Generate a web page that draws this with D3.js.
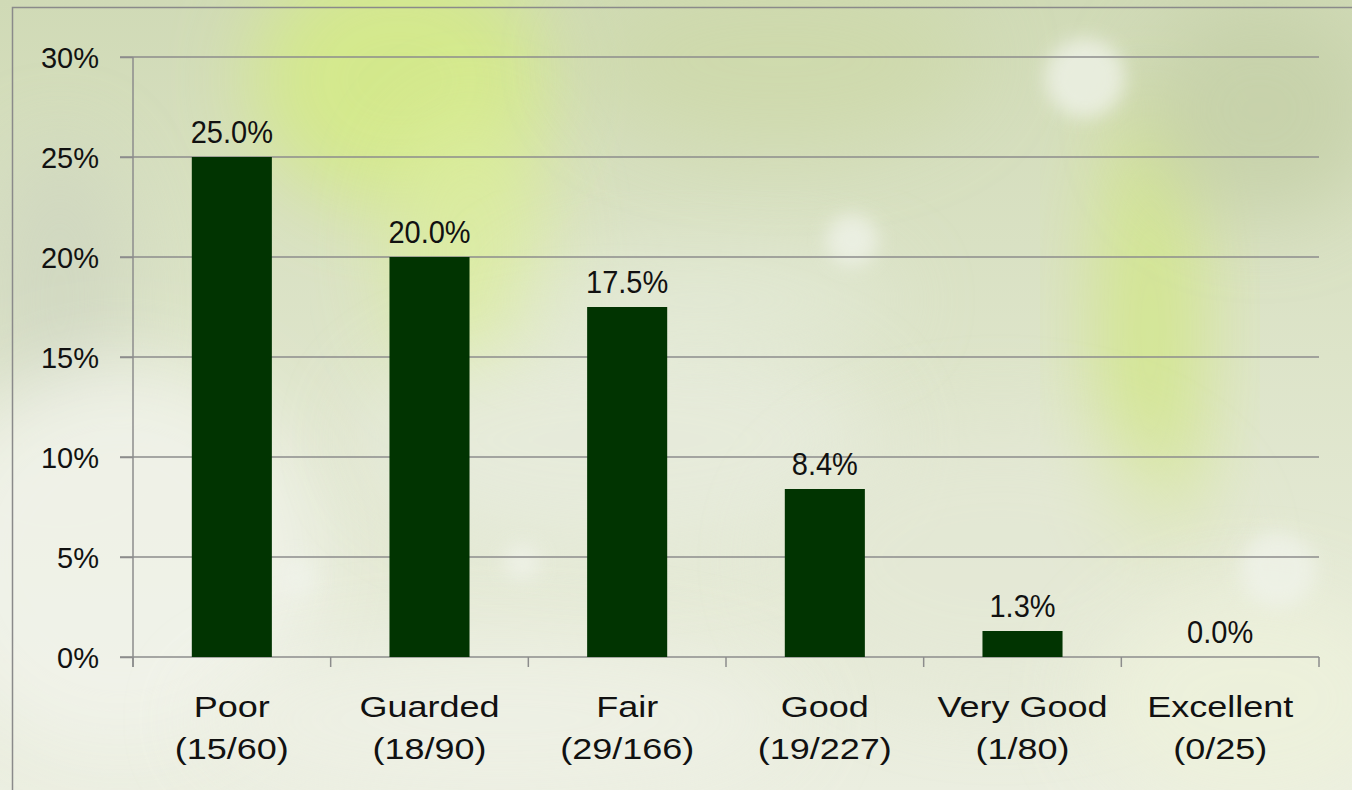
<!DOCTYPE html>
<html>
<head>
<meta charset="utf-8">
<script src="https://cdn.jsdelivr.net/npm/d3@7"></script>
<style>
  html, body { margin: 0; padding: 0; overflow: hidden; }
  svg { display: block; font-family: "Liberation Sans", Arial, sans-serif; }
</style>
</head>
<body>
<svg id="chart"></svg>
<script>
// data
const categories = ["Poor", "Guarded", "Fair", "Good", "Very Good", "Excellent"];
const counts = ["(15/60)", "(18/90)", "(29/166)", "(19/227)", "(1/80)", "(0/25)"];
const values = [0.25, 0.20, 0.175, 0.084, 0.013, 0.0];
const yTicks = [0, 0.05, 0.10, 0.15, 0.20, 0.25, 0.30];

const width = 1352;
const height = 790;
const margin = { top: 57, right: 33, bottom: 133, left: 133 };

const svg = d3.select("#chart").attr("width", width).attr("height", height);
const defs = svg.append("defs");

// background: soft blurred greens
const base = defs.append("linearGradient").attr("id", "bg-base")
  .attr("x1", 0).attr("y1", 0).attr("x2", 0).attr("y2", 1);
base.append("stop").attr("offset", "0%").attr("stop-color", "#d0dab6");
base.append("stop").attr("offset", "45%").attr("stop-color", "#dde4c9");
base.append("stop").attr("offset", "100%").attr("stop-color", "#ebeee0");

defs.append("filter").attr("id", "blur-big")
  .attr("x", "-50%").attr("y", "-50%").attr("width", "200%").attr("height", "200%")
  .append("feGaussianBlur").attr("stdDeviation", 40);
defs.append("filter").attr("id", "blur-small")
  .attr("x", "-50%").attr("y", "-50%").attr("width", "200%").attr("height", "200%")
  .append("feGaussianBlur").attr("stdDeviation", 9);

const bg = svg.append("g").attr("class", "background");
bg.append("rect").attr("width", width).attr("height", height).attr("fill", "url(#bg-base)");

const blobs = [
  { cx: 400, cy: 80, rx: 150, ry: 130, c: "#d4ea88", o: 0.9 },
  { cx: 470, cy: 250, rx: 80, ry: 140, c: "#dcee9c", o: 0.8 },
  { cx: 1150, cy: 330, rx: 55, ry: 230, c: "#d2e68a", o: 0.9 },
  { cx: 1260, cy: 110, rx: 120, ry: 110, c: "#c2cea4", o: 0.7 },
  { cx: 780, cy: 60, rx: 200, ry: 90, c: "#cdd9a8", o: 0.7 },
  { cx: 60, cy: 300, rx: 70, ry: 160, c: "#cdd4c0", o: 0.7 },
  { cx: 120, cy: 560, rx: 200, ry: 200, c: "#f1f3ea", o: 0.9 },
  { cx: 620, cy: 440, rx: 260, ry: 110, c: "#e9ede0", o: 0.7 },
  { cx: 700, cy: 300, rx: 200, ry: 55, c: "#e6ecdc", o: 0.6 },
  { cx: 1000, cy: 560, rx: 220, ry: 140, c: "#e4e8d6", o: 0.6 },
  { cx: 1250, cy: 700, rx: 160, ry: 110, c: "#eef2dc", o: 0.8 },
  { cx: 500, cy: 720, rx: 300, ry: 80, c: "#eff1e6", o: 0.8 },
];
bg.selectAll("ellipse.blob").data(blobs).join("ellipse")
  .attr("class", "blob")
  .attr("cx", d => d.cx).attr("cy", d => d.cy)
  .attr("rx", d => d.rx).attr("ry", d => d.ry)
  .attr("fill", d => d.c).attr("opacity", d => d.o)
  .attr("filter", "url(#blur-big)");

const bokeh = [
  { cx: 1085, cy: 78, r: 40 },
  { cx: 852, cy: 240, r: 26 },
  { cx: 1278, cy: 570, r: 38 },
  { cx: 296, cy: 578, r: 20 },
  { cx: 522, cy: 562, r: 18 },
];
bg.selectAll("circle.bokeh").data(bokeh).join("circle")
  .attr("class", "bokeh")
  .attr("cx", d => d.cx).attr("cy", d => d.cy).attr("r", d => d.r)
  .attr("fill", "#f0f3ea").attr("opacity", 0.75)
  .attr("filter", "url(#blur-small)");

// frame
svg.append("rect")
  .attr("x", 12.5).attr("y", 7.5)
  .attr("width", width).attr("height", height)
  .attr("fill", "none").attr("stroke", "#8a8a8a").attr("stroke-width", 1.5);

// scales
const x = d3.scaleBand()
  .domain(categories)
  .range([margin.left, width - margin.right])
  .paddingInner(0.595)
  .paddingOuter(0.2975);

const y = d3.scaleLinear()
  .domain([0, 0.30])
  .range([height - margin.bottom, margin.top]);

const axisColor = "#8c8c8c";

// gridlines
svg.append("g").attr("class", "grid")
  .selectAll("line").data(yTicks).join("line")
  .attr("x1", margin.left - 13).attr("x2", width - margin.right)
  .attr("y1", d => y(d)).attr("y2", d => y(d))
  .attr("stroke", axisColor).attr("stroke-width", 1.5);

// y axis
const yAxisG = svg.append("g").attr("class", "axis yAxis")
  .attr("transform", `translate(${margin.left}, 0)`)
  .call(d3.axisLeft(y).tickValues(yTicks).tickFormat(d3.format(".0%")).tickSize(13).tickPadding(21));
yAxisG.select(".domain").remove();
yAxisG.selectAll(".tick line").attr("stroke", axisColor).attr("stroke-width", 1.5);
yAxisG.selectAll(".tick text")
  .attr("font-size", 29).attr("fill", "#111").attr("dy", "0.36em")
  .attr("font-family", "'Liberation Sans', Arial, sans-serif");
svg.append("line")
  .attr("x1", margin.left).attr("x2", margin.left)
  .attr("y1", y(0.30)).attr("y2", y(0) + 10)
  .attr("stroke", axisColor).attr("stroke-width", 1.5);

// x axis ticks at band boundaries
const boundaries = d3.range(categories.length + 1).map(i => x.range()[0] + i * x.step());
svg.append("g").attr("class", "xticks")
  .selectAll("line").data(boundaries).join("line")
  .attr("x1", d => d).attr("x2", d => d)
  .attr("y1", y(0)).attr("y2", y(0) + 10)
  .attr("stroke", axisColor).attr("stroke-width", 1.5);

// bars
svg.append("g").attr("class", "bars")
  .selectAll("rect").data(values).join("rect")
  .attr("x", (d, i) => x(categories[i]))
  .attr("width", x.bandwidth())
  .attr("y", d => y(d))
  .attr("height", d => y(0) - y(d))
  .attr("fill", "#013401");

// data labels
svg.append("g").attr("class", "labels")
  .selectAll("g").data(values).join("g")
  .attr("transform", (d, i) => `translate(${x(categories[i]) + x.bandwidth() / 2}, ${y(d) - 14}) scale(1, 1.08)`)
  .append("text")
  .attr("text-anchor", "middle")
  .attr("font-size", 29)
  .attr("fill", "#111")
  .text(d => d3.format(".1%")(d));

// category labels, two lines
const catG = svg.append("g").attr("class", "categories")
  .selectAll("g").data(categories).join("g")
  .attr("transform", d => `translate(${x(d) + x.bandwidth() / 2}, 0) scale(1.2, 1)`);
catG.append("text")
  .attr("y", 717)
  .attr("text-anchor", "middle")
  .attr("font-size", 30)
  .attr("fill", "#111")
  .text(d => d);
catG.append("text")
  .attr("y", 759)
  .attr("text-anchor", "middle")
  .attr("font-size", 30)
  .attr("fill", "#111")
  .text((d, i) => counts[i]);
</script>
</body>
</html>
